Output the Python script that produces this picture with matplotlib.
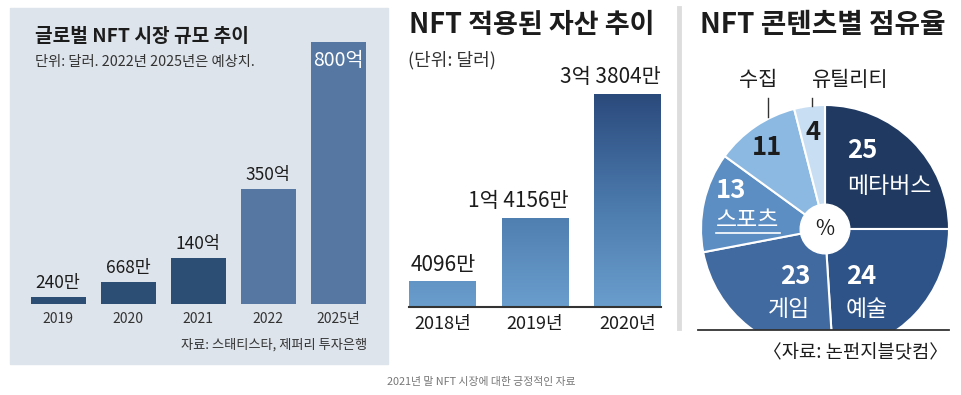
import matplotlib
matplotlib.use("Agg")
import matplotlib.pyplot as plt
import numpy as np
from matplotlib.colors import LinearSegmentedColormap
from matplotlib.patches import Rectangle, Circle
from matplotlib.lines import Line2D

plt.rcParams["font.family"] = ["Noto Sans CJK KR", "DejaVu Sans"]

# 글로벌 NFT 시장 규모 (막대 높이는 억 달러 기준, 작은 두 값은 그림에서 읽은 높이)
market_years = ["2019", "2020", "2021", "2022", "2025년"]
market_labels = ["240만", "668만", "140억", "350억", "800억"]
market_heights = [21, 67, 140, 350, 800]
market_forecast = [False, False, False, True, True]

# NFT 적용된 자산 (만 달러)
asset_years = ["2018년", "2019년", "2020년"]
asset_values = [4096, 14156, 33804]
asset_labels = ["4096만", "1억 4156만", "3억 3804만"]

# NFT 콘텐츠별 점유율 (%)
share_names = ["메타버스", "예술", "게임", "스포츠", "수집", "유틸리티"]
share_values = [25, 24, 23, 13, 11, 4]

W, H = 962, 395
TXT = "#1c1c1c"


def fx(x):
    return x / W


def fy(y):
    return 1 - y / H


def axes_px(fig, x0, y0, x1, y1):
    ax = fig.add_axes([x0 / W, 1 - y1 / H, (x1 - x0) / W, (y1 - y0) / H])
    ax.set_axis_off()
    return ax


fig = plt.figure(figsize=(W / 100, H / 100), dpi=100)
fig.patch.set_facecolor("white")

# ---------- panel 1 ----------
fig.patches.append(Rectangle((fx(10), fy(364)), 378 / W, 356 / H,
                             transform=fig.transFigure, color="#dee4eb", zorder=-5))
fig.text(fx(35), fy(37), "글로벌 NFT 시장 규모 추이", fontsize=13.8,
         fontweight="bold", color=TXT, va="center")
fig.text(fx(35), fy(62), "단위: 달러. 2022년 2025년은 예상치.", fontsize=10.3,
         color="#333333", va="center")

ax1 = axes_px(fig, 10, 42, 388, 304)
pos1 = np.arange(len(market_years))
cols1 = ["#5577a2" if f else "#2d4e74" for f in market_forecast]
ax1.bar(pos1, market_heights, width=55 / 70, color=cols1)
ax1.set_xlim(-48 / 70, 330 / 70)
ax1.set_ylim(0, 800)
for i, (h, lab) in enumerate(zip(market_heights, market_labels)):
    if i == len(market_heights) - 1:
        ax1.annotate(lab, (i, h), xytext=(0, -6), textcoords="offset points",
                     ha="center", va="top", fontsize=14, color="white",
                     fontweight="medium")
    else:
        ax1.annotate(lab, (i, h), xytext=(0, 4), textcoords="offset points",
                     ha="center", va="bottom", fontsize=12.5, color=TXT,
                     fontweight="medium")
    ax1.annotate(market_years[i], (i, 0), xytext=(0, -11), textcoords="offset points",
                 ha="center", va="center", fontsize=10, color="#333333",
                 annotation_clip=False)
fig.text(fx(367), fy(345), "자료: 스태티스타, 제퍼리 투자은행", fontsize=9.5,
         color="#333333", ha="right", va="center")

# ---------- panel 2 ----------
fig.text(fx(409), fy(25), "NFT 적용된 자산 추이", fontsize=19.5,
         fontweight="bold", color=TXT, va="center")
fig.text(fx(408), fy(60), "(단위: 달러)", fontsize=13, color="#333333", va="center")

ax2 = axes_px(fig, 400, 94, 670, 307)
pos2 = np.arange(len(asset_years))
bw = 67 / 92.5
bars = ax2.bar(pos2, asset_values, width=bw, color="none", edgecolor="none")
xl = (-42.5 / 92.5, 227.5 / 92.5)
ymax = max(asset_values)
cmap = LinearSegmentedColormap.from_list("grad", ["#6a9ecd", "#4a78ab", "#2b4a7c"])
grad = np.linspace(0, 1, 256).reshape(-1, 1)
for b in bars:
    im = ax2.imshow(grad, extent=[xl[0], xl[1], 0, ymax], origin="lower",
                    aspect="auto", cmap=cmap, zorder=1)
    im.set_clip_path(b)
ax2.set_xlim(*xl)
ax2.set_ylim(0, ymax)
ax2.axhline(0, xmin=(pos2[0] - bw / 2 - xl[0]) / (xl[1] - xl[0]),
            xmax=(pos2[-1] + bw / 2 - xl[0]) / (xl[1] - xl[0]),
            color="#333333", lw=1.5, zorder=3, clip_on=False)
for i, (v, lab) in enumerate(zip(asset_values, asset_labels)):
    ax2.annotate(lab, (i + bw / 2, v), xytext=(0, 4), textcoords="offset points",
                 ha="right", va="bottom", fontsize=15, color=TXT,
                 fontweight="medium" if i == len(asset_values) - 1 else "normal",
                 annotation_clip=False)
    ax2.annotate(asset_years[i], (i, 0), xytext=(0, -12), textcoords="offset points",
                 ha="center", va="center", fontsize=13, color=TXT,
                 annotation_clip=False)

# separator
fig.lines.append(Line2D([fx(679), fx(679)], [fy(8), fy(328)], transform=fig.transFigure,
                        color="#dddddd", lw=3.5))

# ---------- panel 3 ----------
fig.text(fx(700), fy(25), "NFT 콘텐츠별 점유율", fontsize=20,
         fontweight="bold", color=TXT, va="center")

ax3 = axes_px(fig, 701, 105, 949, 330)
pie_cols = ["#1f3961", "#2e5389", "#416aa0", "#5c8dc3", "#8cb9e2", "#c8def2"]
ax3.pie(share_values, colors=pie_cols, startangle=90, counterclock=False, radius=1,
        wedgeprops=dict(edgecolor="white", linewidth=1.5, clip_on=True))
ax3.set_xlim(-1, 1)
ax3.set_ylim(-101 / 124, 1)
ax3.set_aspect("equal")
ax3.add_patch(Circle((0, 0), 0.2, color="white", zorder=5))
ax3.text(0, 0, "%", fontsize=15, ha="center", va="center", color=TXT, zorder=6)

# label anchors: (number pos, name pos, align, colour)
lab_pos = [
    ((0.18, 0.63), (0.18, 0.34), "left", "white"),
    ((0.17, -0.38), (0.17, -0.65), "left", "white"),
    ((-0.12, -0.38), (-0.12, -0.65), "right", "white"),
    ((-0.88, 0.31), (-0.88, 0.07), "left", "white"),
    ((-0.47, 0.66), None, "center", TXT),
    ((-0.10, 0.78), None, "center", TXT),
]
for name, val, (p_num, p_name, ha, c) in zip(share_names, share_values, lab_pos):
    ax3.text(p_num[0], p_num[1], str(val), fontsize=18.5, fontweight="bold",
             ha=ha, va="center", color=c, zorder=6)
    if p_name is not None:
        ax3.text(p_name[0], p_name[1], name, fontsize=16.5, fontweight="medium",
                 ha=ha, va="center", color=c, zorder=6)
# 스포츠 underline
ax3.plot([-0.88, -0.36], [-0.03, -0.03], color="white", lw=1.2, zorder=6)

# outside labels with leader lines
ax3.text(-0.54, 1.20, share_names[4], fontsize=15, ha="center", va="center",
         color=TXT, clip_on=False)
ax3.text(0.20, 1.20, share_names[5], fontsize=15, ha="center", va="center",
         color=TXT, clip_on=False)
ax3.plot([-0.46, -0.46], [0.90, 1.06], color="#333333", lw=1, clip_on=False)
ax3.plot([-0.105, -0.105], [0.99, 1.06], color="#333333", lw=1, clip_on=False)

fig.lines.append(Line2D([fx(698), fx(949)], [fy(330), fy(330)], transform=fig.transFigure,
                        color="#333333", lw=1.3))
fig.text(fx(948), fy(353), "〈자료: 논펀지블닷컴〉", fontsize=13.5, color=TXT,
         ha="right", va="center")

# caption
fig.text(fx(481), fy(382), "2021년 말 NFT 시장에 대한 긍정적인 자료", fontsize=7.8,
         color="#777777", ha="center", va="center")

fig.savefig("out.png", dpi=100)
